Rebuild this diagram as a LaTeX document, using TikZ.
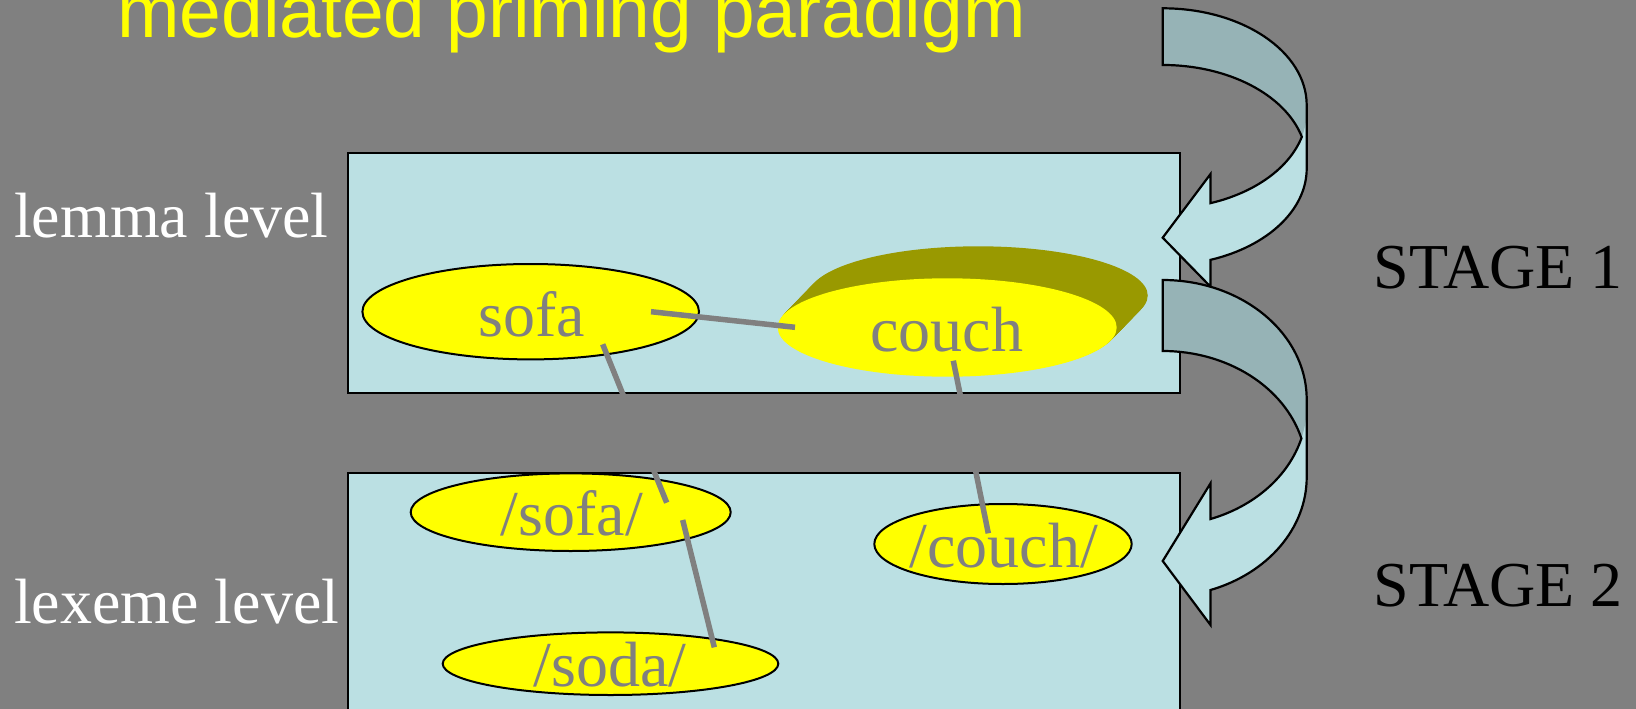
\documentclass[tikz,border=0pt]{standalone}
\usepackage{fontspec}
\setmainfont{Liberation Serif}
\newfontfamily\titlefont{Liberation Sans}
\usetikzlibrary{shapes.geometric}
\definecolor{bggray}{RGB}{128,128,128}
\definecolor{boxblue}{RGB}{187,224,227}
\definecolor{arrowdark}{RGB}{150,179,182}
\definecolor{shadowolive}{RGB}{153,153,0}
\definecolor{wordyellow}{RGB}{255,255,0}
\begin{document}
\begin{tikzpicture}[x=1pt,y=1pt,
  levelbox/.style={rectangle, fill=boxblue, draw=black, line width=2.2pt, inner sep=0pt, anchor=north west},
  wordell/.style={ellipse, fill=wordyellow, draw=black, line width=2pt, inner sep=0pt},
  plainell/.style={ellipse, fill=wordyellow, inner sep=0pt},
  wordtext/.style={text=bggray, inner sep=0pt, anchor=base, font=\fontsize{64}{64}\selectfont},
  sidetext/.style={inner sep=0pt, anchor=base west, font=\fontsize{64}{64}\selectfont},
  titletext/.style={text=wordyellow, inner sep=0pt, anchor=base west, font=\titlefont\fontsize{75}{75}\selectfont},
  connector/.style={draw=bggray, line width=5.5pt},
  arrowoutline/.style={draw=black, line width=2.2pt}
]
\useasboundingbox (0,0) rectangle (1636,-709);
\clip (0,0) rectangle (1636,-709);
\fill[bggray] (0,0) rectangle (1636,-709);

% title
\node[titletext] (title) at (117,-37.6) {mediated priming paradigm};

% level boxes
\node[levelbox, minimum width=832.3pt, minimum height=240pt] (lemmabox) at (346.7,-151.7) {};
\node[levelbox, minimum width=832.3pt, minimum height=260pt] (lexemebox) at (346.7,-471.5) {};

% side labels
\node[sidetext, text=white] (lemmalabel) at (13.8,-237.3) {lemma level};
\node[sidetext, text=white] (lexemelabel) at (13.8,-623.3) {lexeme level};
\node[sidetext, text=black] (stage1) at (1373.3,-288.3) {STAGE 1};
\node[sidetext, text=black] (stage2) at (1373.3,-606.7) {STAGE 2};

% lemma ellipses
\node[wordell, minimum width=336.6pt, minimum height=95.4pt] (sofa) at (530.7,-311.7) {};
\foreach \i in {1,...,32}
  \fill[shadowolive] (947.2+0.97*\i,-327.5+\i) ellipse [x radius=169.5, y radius=49.2];
\node[plainell, minimum width=339pt, minimum height=98.4pt] (couch) at (947.2,-327.5) {};

% lexeme ellipses
\node[wordell, minimum width=320pt, minimum height=77.6pt] (lsofa) at (570.7,-512.2) {};
\node[wordell, minimum width=335.6pt, minimum height=62.6pt] (lsoda) at (610.5,-663.7) {};
\node[wordell, minimum width=257.4pt, minimum height=80pt] (lcouch) at (1003,-544) {};

% word labels
\node[wordtext] (sofatext) at (532,-336) {sofa};
\node[wordtext] (couchtext) at (946.7,-351) {couch};
\node[wordtext] (lsofatext) at (571.7,-535) {/sofa/};
\node[wordtext] (lsodatext) at (610,-686.7) {/soda/};
\node[wordtext] (lcouchtext) at (1003.8,-567.3) {/couch/};

% connector end points
\coordinate (c1a) at (651,-311.7);
\coordinate (c1b) at (795,-327.3);
\coordinate (c2a) at (602.7,-344.3);
\coordinate (c2b) at (666.7,-502.7);
\coordinate (c3a) at (682.7,-520);
\coordinate (c3b) at (714.3,-647.3);
\coordinate (c4a) at (953.3,-360.7);
\coordinate (c4b) at (988.3,-533.3);
\draw[connector] (c1a) -- (c1b);
\draw[connector] (c2a) -- (c2b);
\draw[connector] (c3a) -- (c3b);
\draw[connector] (c4a) -- (c4b);

% curved arrow 1
\fill[boxblue] (1162.7,-8.3) arc[start angle=90, end angle=0, x radius=144, y radius=96.85]
  -- (1306.7,-168.5) arc[start angle=0, end angle=-70.62, x radius=144, y radius=96.85]
  -- (1210.5,-286.7) -- (1162.7,-237.7) -- (1210.5,-174) -- (1210.5,-203.16)
  arc[start angle=-70.62, end angle=-14.97, x radius=144, y radius=96.85]
  arc[start angle=14.97, end angle=90, x radius=144, y radius=96.85] -- cycle;
\fill[arrowdark] (1162.7,-8.3) arc[start angle=90, end angle=0, x radius=144, y radius=96.85]
  -- (1306.7,-111.8) arc[start angle=0, end angle=-14.97, x radius=144, y radius=96.85]
  arc[start angle=14.97, end angle=90, x radius=144, y radius=96.85] -- cycle;
\draw[arrowoutline] (1162.7,-8.3) arc[start angle=90, end angle=0, x radius=144, y radius=96.85]
  -- (1306.7,-168.5) arc[start angle=0, end angle=-70.62, x radius=144, y radius=96.85]
  -- (1210.5,-286.7) -- (1162.7,-237.7) -- (1210.5,-174) -- (1210.5,-203.16)
  arc[start angle=-70.62, end angle=-14.97, x radius=144, y radius=96.85]
  arc[start angle=14.97, end angle=90, x radius=144, y radius=96.85] -- cycle;

% curved arrow 2
\fill[boxblue] (1162.7,-280) arc[start angle=90, end angle=0, x radius=144, y radius=119.6]
  -- (1306.7,-477.2) arc[start angle=0, end angle=-70.62, x radius=144, y radius=119.6]
  -- (1210.5,-625) -- (1162.7,-561) -- (1210.5,-483.3) -- (1210.5,-519.02)
  arc[start angle=-70.62, end angle=-15.62, x radius=144, y radius=119.6]
  arc[start angle=15.62, end angle=90, x radius=144, y radius=119.6] -- cycle;
\fill[arrowdark] (1162.7,-280) arc[start angle=90, end angle=0, x radius=144, y radius=119.6]
  -- (1306.7,-406.2) arc[start angle=0, end angle=-15.62, x radius=144, y radius=119.6]
  arc[start angle=15.62, end angle=90, x radius=144, y radius=119.6] -- cycle;
\draw[arrowoutline] (1162.7,-280) arc[start angle=90, end angle=0, x radius=144, y radius=119.6]
  -- (1306.7,-477.2) arc[start angle=0, end angle=-70.62, x radius=144, y radius=119.6]
  -- (1210.5,-625) -- (1162.7,-561) -- (1210.5,-483.3) -- (1210.5,-519.02)
  arc[start angle=-70.62, end angle=-15.62, x radius=144, y radius=119.6]
  arc[start angle=15.62, end angle=90, x radius=144, y radius=119.6] -- cycle;
\end{tikzpicture}
\end{document}
